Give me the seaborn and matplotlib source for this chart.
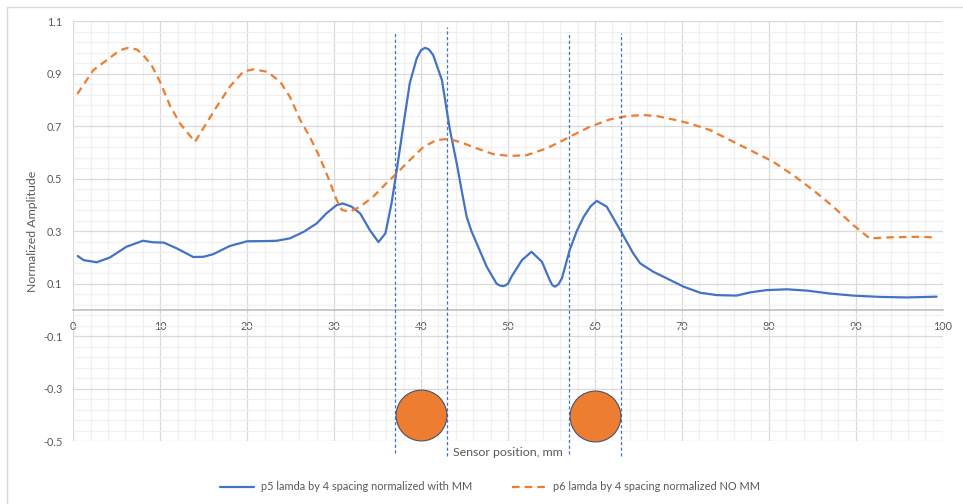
import matplotlib
matplotlib.use("Agg")
import matplotlib.pyplot as plt
from matplotlib.lines import Line2D
from matplotlib.ticker import MultipleLocator
import seaborn as sns
import pandas as pd

# Sensor position (mm) and normalized amplitude, with magnetic marker (p5)
p5_x = [0.5, 1.2, 2.7, 4.2, 6.1, 8.0, 9.2, 10.4, 11.9, 13.8, 15.0, 16.1, 18.0, 20.0,
        22.4, 23.4, 24.9, 26.5, 28.0, 29.1, 30.3, 31.0, 32.0, 33.0, 34.1, 35.1, 35.9,
        36.6, 37.2, 38.0, 38.7, 39.5, 40.0, 40.45, 40.9, 41.4, 42.4, 43.3, 44.1, 44.7,
        45.25, 45.8, 46.4, 47.55, 48.7, 49.1, 49.5, 50.0, 50.4, 51.6, 52.7, 53.9, 54.8,
        55.1, 55.4, 55.8, 56.2, 57.1, 57.9, 58.7, 59.5, 60.2, 61.35, 62.9, 64.4, 65.2,
        66.7, 68.25, 70.2, 72.1, 74.0, 76.3, 77.8, 79.75, 82.1, 84.4, 87.0, 89.7, 92.8,
        95.9, 99.3]
p5_y = [0.206, 0.19, 0.182, 0.2, 0.241, 0.264, 0.258, 0.257, 0.235, 0.202, 0.203, 0.213,
        0.244, 0.262, 0.263, 0.264, 0.273, 0.298, 0.33, 0.368, 0.4, 0.406, 0.394, 0.368,
        0.305, 0.259, 0.292, 0.406, 0.533, 0.711, 0.864, 0.959, 0.99, 0.999, 0.993, 0.971,
        0.876, 0.69, 0.559, 0.45, 0.355, 0.3, 0.254, 0.165, 0.1, 0.093, 0.091, 0.1, 0.127,
        0.19, 0.222, 0.184, 0.114, 0.095, 0.089, 0.098, 0.121, 0.229, 0.3, 0.355, 0.395,
        0.416, 0.394, 0.305, 0.216, 0.178, 0.146, 0.121, 0.089, 0.066, 0.057, 0.055, 0.067,
        0.076, 0.079, 0.074, 0.063, 0.055, 0.05, 0.048, 0.051]

# Same scan without the marker (p6)
p6_x = [0.46, 2.3, 3.84, 5.37, 6.33, 7.29, 8.05, 9.0, 9.97, 11.1, 12.27, 13.2, 14.0,
        14.95, 16.5, 18.0, 19.55, 20.7, 22.3, 23.8, 24.9, 26.1, 27.2, 28.4, 29.5, 30.3,
        30.9, 31.8, 33.0, 34.5, 36.0, 37.2, 38.7, 40.3, 41.8, 43.3, 44.9, 46.4, 48.3,
        50.2, 52.15, 54.45, 56.0, 57.5, 59.4, 61.7, 63.65, 65.6, 67.1, 69.0, 70.9, 73.2,
        75.5, 77.8, 80.5, 82.8, 85.1, 87.4, 89.7, 91.6, 93.9, 97.0, 99.1]
p6_y = [0.823, 0.914, 0.952, 0.99, 0.999, 0.993, 0.971, 0.933, 0.87, 0.78, 0.711, 0.673,
        0.641, 0.692, 0.775, 0.851, 0.908, 0.917, 0.908, 0.87, 0.813, 0.724, 0.66, 0.578,
        0.489, 0.419, 0.381, 0.375, 0.394, 0.432, 0.483, 0.521, 0.571, 0.622, 0.648,
        0.652, 0.635, 0.616, 0.594, 0.587, 0.59, 0.616, 0.641, 0.667, 0.698, 0.726, 0.739,
        0.743, 0.739, 0.726, 0.711, 0.686, 0.648, 0.61, 0.565, 0.514, 0.457, 0.394, 0.324,
        0.273, 0.277, 0.279, 0.277]

# Marker edges and marker positions
edge_x = [37, 43, 57, 63]
edge_top = [1.06, 1.078, 1.06, 1.055]
edge_bottom = [-0.545, -0.555, -0.55, -0.555]
marker_x = [40, 60]
marker_y = [-0.40, -0.405]

labels = ["p5 lamda by 4 spacing normalized with MM",
          "p6 lamda by 4 spacing normalized NO MM"]
x_ticks = list(range(0, 101, 10))
y_ticks = [-0.5, -0.3, -0.1, 0.1, 0.3, 0.5, 0.7, 0.9, 1.1]

BLUE = "#4472C4"
ORANGE = "#ED7D31"
TEXT = "#595959"

sns.set_theme(style="white")
plt.rcParams["font.family"] = ["Lato", "DejaVu Sans"]

W, H = 963, 504
fig = plt.figure(figsize=(W / 100, H / 100), dpi=100)
ax = fig.add_axes([73.3 / W, 1 - 441.3 / H, (942.7 - 73.3) / W, (441.3 - 21.3) / H])

ax.set_xlim(0, 100)
ax.set_ylim(-0.5, 1.1)

# grid: major and minor
ax.set_xticks(x_ticks)
ax.set_yticks(y_ticks)
ax.xaxis.set_minor_locator(MultipleLocator(2))
ax.set_yticks([v / 100 for v in range(-50, 111, 4)], minor=True)
ax.grid(which="major", color="#D9D9D9", lw=0.9)
ax.grid(which="minor", color="#F0F0F0", lw=0.9)
ax.set_axisbelow(True)

for s in ["top", "right", "left"]:
    ax.spines[s].set_visible(False)
ax.spines["bottom"].set_position(("data", 0))
ax.spines["bottom"].set_color("#BFBFBF")
ax.spines["bottom"].set_linewidth(1.2)

ax.tick_params(axis="both", which="both", length=0, colors=TEXT, labelsize=7.8)
ax.tick_params(axis="y", pad=8)
ax.tick_params(axis="x", pad=8)
ax.set_xticklabels([str(v) for v in x_ticks])
ax.set_yticklabels([f"{v:.1f}" for v in y_ticks])

df5 = pd.DataFrame({"x": p5_x, "y": p5_y})
df6 = pd.DataFrame({"x": p6_x, "y": p6_y})
sns.lineplot(data=df5, x="x", y="y", ax=ax, color=BLUE, lw=1.6, sort=False,
             estimator=None)
sns.lineplot(data=df6, x="x", y="y", ax=ax, color=ORANGE, lw=1.6, sort=False,
             estimator=None, dashes=False)
ax.lines[-1].set_dashes((3.4, 2.3))

for xv, top, bot in zip(edge_x, edge_top, edge_bottom):
    ax.plot([xv, xv], [bot, top], color=BLUE, lw=0.9, dashes=(2.6, 1.9), clip_on=False,
            zorder=3)

sns.scatterplot(x=marker_x, y=marker_y, ax=ax, s=1340, color=ORANGE,
                edgecolor="#44546A", linewidth=0.8, zorder=4, clip_on=False)

ax.set_xlabel("")
ax.set_ylabel("")
fig.text(33 / W, 1 - 231 / H, "Normalized Amplitude", rotation=90, ha="center",
         va="center", color=TEXT, fontsize=8.9)
fig.text(508 / W, 1 - 452 / H, "Sensor position, mm", ha="center", va="center",
         color=TEXT, fontsize=8.9)

handles = [Line2D([], [], color=BLUE, lw=1.6),
           Line2D([], [], color=ORANGE, lw=1.6, dashes=(3.4, 2.3))]
leg = fig.legend(handles, labels, loc="center", bbox_to_anchor=(490 / W, 1 - 487 / H),
                 ncol=2, frameon=False, fontsize=7.95, handlelength=3.1,
                 handletextpad=0.6, columnspacing=3.6)
for t in leg.get_texts():
    t.set_color(TEXT)

# chart frame
fig.add_artist(Line2D([6.5 / W, 6.5 / W], [0, 1 - 6.5 / H], color="#D9D9D9", lw=1,
                      transform=fig.transFigure))
fig.add_artist(Line2D([6.5 / W, 1], [1 - 6.5 / H, 1 - 6.5 / H], color="#D9D9D9", lw=1,
                      transform=fig.transFigure))

fig.savefig("out.png", dpi=100, facecolor="white")
